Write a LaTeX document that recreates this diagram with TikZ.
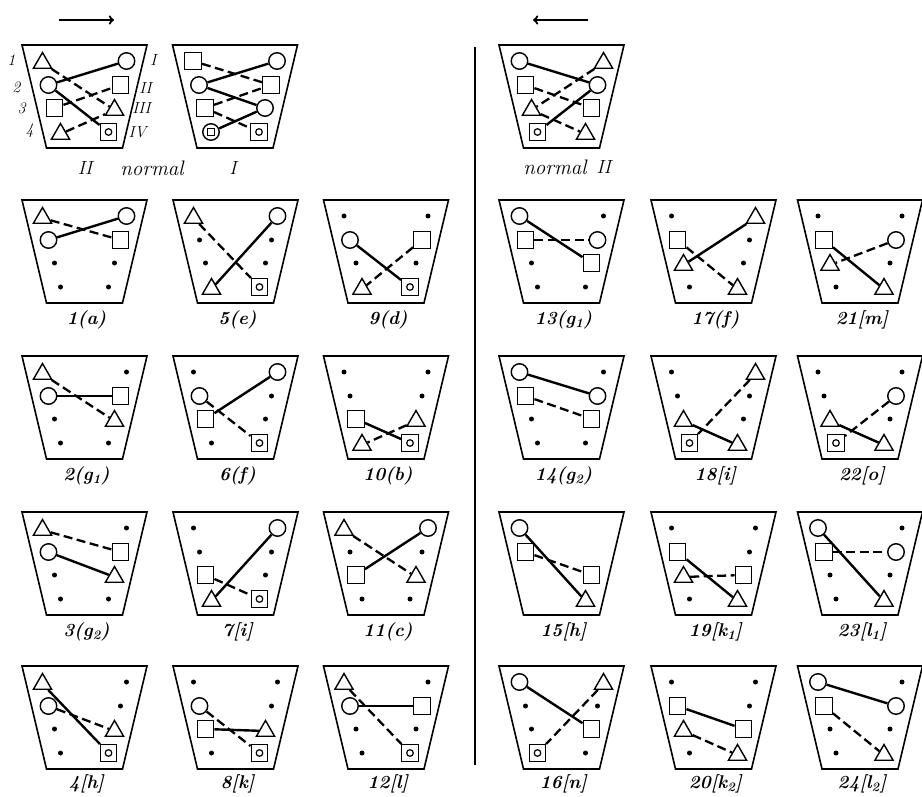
\documentclass[tikz,border=0pt]{standalone}
\usepackage{tikz}
\usetikzlibrary{shapes.geometric, arrows, positioning}

\newcommand{\pot}{\draw[rim] (-62.5,0) -- (62.5,0) -- (38,103) -- (-38,103) -- cycle;}

\begin{document}
\begin{tikzpicture}[x=1pt, y=-1pt,
    rim/.style={line width=1.6pt, line join=miter},
    tri/.style={regular polygon, regular polygon sides=3, draw, line width=1.4pt, minimum size=21pt, inner sep=0pt, yshift=-2pt},
    ring/.style={circle, draw, line width=1.4pt, minimum size=16.5pt, inner sep=0pt},
    box/.style={rectangle, draw, line width=1.4pt, minimum size=16.5pt, inner sep=0pt},
    dotbox/.style={box, path picture={\draw[line width=1.2pt] (path picture bounding box.center) circle (3.3pt);}},
    ringbox/.style={ring, path picture={\draw[line width=1.2pt] ([shift={(-3.2pt,-3.2pt)}]path picture bounding box.center) rectangle ++(6.4pt,6.4pt);}},
    spot/.style={circle, fill, minimum size=5pt, inner sep=0pt},
    link/.style={line width=2.4pt},
    dlink/.style={line width=2.3pt, dash pattern=on 9pt off 4.5pt},
    tag/.style={font=\fontsize{18.5}{22}\bfseries\itshape\selectfont},
    num/.style={font=\fontsize{16}{18}\itshape\selectfont},
    arrow/.style={->, line width=2.2pt, >=to},
    L1/.style={at={(-42,16)}}, L2/.style={at={(-36,40)}}, L3/.style={at={(-30,63)}}, L4/.style={at={(-24,87)}},
    R1/.style={at={(42,16)}}, R2/.style={at={(36,40)}}, R3/.style={at={(30,63)}}, R4/.style={at={(24,87)}}
]
\useasboundingbox (0,0) rectangle (922,797);

% direction arrows and divider
\coordinate (goA) at (59,20);
\coordinate (goB) at (114,20);
\coordinate (backA) at (588,20);
\coordinate (backB) at (533,20);
\draw[arrow] (goA) -- (goB);
\draw[arrow] (backA) -- (backB);
\draw[line width=1.4pt] (475,47) -- (475,765);

% normal cups
\begin{scope}[shift={(84.5,45)}, name prefix=n1-]
\pot
\node[tri,L1] (l1) {}; \node[ring,L2] (l2) {}; \node[box,L3] (l3) {}; \node[tri,L4] (l4) {};
\node[ring,R1] (r1) {}; \node[box,R2] (r2) {}; \node[tri,R3] (r3) {}; \node[dotbox,R4] (r4) {};
\draw[link] (l2) -- (r1); \draw[link] (l2) -- (r4);
\draw[dlink] (l1) -- (r3); \draw[dlink] (l3) -- (r2); \draw[dlink] (l4) -- (r3);
\node[num] (k1) at (-73,15) {1};
\node[num] (k2) at (-68,42) {2};
\node[num] (k3) at (-63,63) {3};
\node[num] (k4) at (-55,86) {4};
\node[num] (m1) at (69,15) {I};
\node[num] (m2) at (61,43) {II};
\node[num] (m3) at (57,63) {III};
\node[num] (m4) at (53,87) {IV};
\end{scope}
\begin{scope}[shift={(235,45)}, name prefix=n2-]
\pot
\node[box,L1] (l1) {}; \node[ring,L2] (l2) {}; \node[box,L3] (l3) {}; \node[ringbox,L4] (l4) {};
\node[ring,R1] (r1) {}; \node[box,R2] (r2) {}; \node[ring,R3] (r3) {}; \node[dotbox,R4] (r4) {};
\draw[link] (l2) -- (r1); \draw[link] (l2) -- (r3); \draw[link] (l4) -- (r3);
\draw[dlink] (l1) -- (r2); \draw[dlink] (l3) -- (r2); \draw[dlink] (l3) -- (r4);
\end{scope}
\begin{scope}[shift={(561.5,45)}, name prefix=n3-]
\pot
\node[ring,L1] (l1) {}; \node[box,L2] (l2) {}; \node[tri,L3] (l3) {}; \node[dotbox,L4] (l4) {};
\node[tri,R1] (r1) {}; \node[ring,R2] (r2) {}; \node[box,R3] (r3) {}; \node[tri,R4] (r4) {};
\draw[link] (l1) -- (r2); \draw[link] (l4) -- (r2);
\draw[dlink] (r1) -- (l3); \draw[dlink] (l2) -- (r3); \draw[dlink] (l3) -- (r4);
\end{scope}
\node[num] (t1) at (85,168) {\fontsize{19}{22}\selectfont II};
\node[num] (t2) at (152,168) {\fontsize{21}{24}\selectfont normal};
\node[num] (t3) at (233,168) {\fontsize{19}{22}\selectfont I};
\node[num] (t4) at (555,167) {\fontsize{21}{24}\selectfont normal};
\node[num, right=3pt of t4] (t5) {\fontsize{19}{22}\selectfont II};

% row 1
\begin{scope}[shift={(84.5,200)}, name prefix=p1-]
\pot
\node[tri,L1] (l1) {}; \node[ring,L2] (l2) {}; \node[spot,L3] (l3) {}; \node[spot,L4] (l4) {};
\node[ring,R1] (r1) {}; \node[box,R2] (r2) {}; \node[spot,R3] (r3) {}; \node[spot,R4] (r4) {};
\draw[link] (l2) -- (r1); \draw[dlink] (l1) -- (r2);
\node[tag] (tag) at (2,120) {1(a)};
\end{scope}
\begin{scope}[shift={(235.5,200)}, name prefix=p5-]
\pot
\node[tri,L1] (l1) {}; \node[spot,L2] (l2) {}; \node[spot,L3] (l3) {}; \node[tri,L4] (l4) {};
\node[ring,R1] (r1) {}; \node[spot,R2] (r2) {}; \node[spot,R3] (r3) {}; \node[dotbox,R4] (r4) {};
\draw[link] (r1) -- (l4); \draw[dlink] (l1) -- (r4);
\node[tag] (tag) at (2,120) {5(e)};
\end{scope}
\begin{scope}[shift={(386,200)}, name prefix=p9-]
\pot
\node[spot,L1] (l1) {}; \node[ring,L2] (l2) {}; \node[spot,L3] (l3) {}; \node[tri,L4] (l4) {};
\node[spot,R1] (r1) {}; \node[box,R2] (r2) {}; \node[spot,R3] (r3) {}; \node[dotbox,R4] (r4) {};
\draw[link] (l2) -- (r4); \draw[dlink] (r2) -- (l4);
\node[tag] (tag) at (2,120) {9(d)};
\end{scope}
\begin{scope}[shift={(561.5,200)}, name prefix=p13-]
\pot
\node[ring,L1] (l1) {}; \node[box,L2] (l2) {}; \node[spot,L3] (l3) {}; \node[spot,L4] (l4) {};
\node[spot,R1] (r1) {}; \node[ring,R2] (r2) {}; \node[box,R3] (r3) {}; \node[spot,R4] (r4) {};
\draw[link] (l1) -- (r3); \draw[dlink] (l2) -- (r2);
\node[tag] (tag) at (2,120) {13(g\textsubscript{1})};
\end{scope}
\begin{scope}[shift={(713.5,200)}, name prefix=p17-]
\pot
\node[spot,L1] (l1) {}; \node[box,L2] (l2) {}; \node[tri,L3] (l3) {}; \node[spot,L4] (l4) {};
\node[tri,R1] (r1) {}; \node[spot,R2] (r2) {}; \node[spot,R3] (r3) {}; \node[tri,R4] (r4) {};
\draw[link] (r1) -- (l3); \draw[dlink] (l2) -- (r4);
\node[tag] (tag) at (2,120) {17(f)};
\end{scope}
\begin{scope}[shift={(860,200)}, name prefix=p21-]
\pot
\node[spot,L1] (l1) {}; \node[box,L2] (l2) {}; \node[tri,L3] (l3) {}; \node[spot,L4] (l4) {};
\node[spot,R1] (r1) {}; \node[ring,R2] (r2) {}; \node[spot,R3] (r3) {}; \node[tri,R4] (r4) {};
\draw[link] (l2) -- (r4); \draw[dlink] (r2) -- (l3);
\node[tag] (tag) at (2,120) {21[m]};
\end{scope}

% row 2
\begin{scope}[shift={(84.5,356)}, name prefix=p2-]
\pot
\node[tri,L1] (l1) {}; \node[ring,L2] (l2) {}; \node[spot,L3] (l3) {}; \node[spot,L4] (l4) {};
\node[spot,R1] (r1) {}; \node[box,R2] (r2) {}; \node[tri,R3] (r3) {}; \node[spot,R4] (r4) {};
\draw[link] (l2) -- (r2); \draw[dlink] (l1) -- (r3);
\node[tag] (tag) at (2,120) {2(g\textsubscript{1})};
\end{scope}
\begin{scope}[shift={(235.5,356)}, name prefix=p6-]
\pot
\node[spot,L1] (l1) {}; \node[ring,L2] (l2) {}; \node[box,L3] (l3) {}; \node[spot,L4] (l4) {};
\node[ring,R1] (r1) {}; \node[spot,R2] (r2) {}; \node[spot,R3] (r3) {}; \node[dotbox,R4] (r4) {};
\draw[link] (l3) -- (r1); \draw[dlink] (l2) -- (r4);
\node[tag] (tag) at (2,120) {6(f)};
\end{scope}
\begin{scope}[shift={(386,356)}, name prefix=p10-]
\pot
\node[spot,L1] (l1) {}; \node[spot,L2] (l2) {}; \node[box,L3] (l3) {}; \node[tri,L4] (l4) {};
\node[spot,R1] (r1) {}; \node[spot,R2] (r2) {}; \node[tri,R3] (r3) {}; \node[dotbox,R4] (r4) {};
\draw[link] (l3) -- (r4); \draw[dlink] (r3) -- (l4);
\node[tag] (tag) at (2,120) {10(b)};
\end{scope}
\begin{scope}[shift={(561.5,356)}, name prefix=p14-]
\pot
\node[ring,L1] (l1) {}; \node[box,L2] (l2) {}; \node[spot,L3] (l3) {}; \node[spot,L4] (l4) {};
\node[spot,R1] (r1) {}; \node[ring,R2] (r2) {}; \node[box,R3] (r3) {}; \node[spot,R4] (r4) {};
\draw[link] (l1) -- (r2); \draw[dlink] (l2) -- (r3);
\node[tag] (tag) at (2,120) {14(g\textsubscript{2})};
\end{scope}
\begin{scope}[shift={(713.5,356)}, name prefix=p18-]
\pot
\node[spot,L1] (l1) {}; \node[spot,L2] (l2) {}; \node[tri,L3] (l3) {}; \node[dotbox,L4] (l4) {};
\node[tri,R1] (r1) {}; \node[spot,R2] (r2) {}; \node[spot,R3] (r3) {}; \node[tri,R4] (r4) {};
\draw[link] (l3) -- (r4); \draw[dlink] (r1) -- (l4);
\node[tag] (tag) at (2,120) {18[i]};
\end{scope}
\begin{scope}[shift={(860,356)}, name prefix=p22-]
\pot
\node[spot,L1] (l1) {}; \node[spot,L2] (l2) {}; \node[tri,L3] (l3) {}; \node[dotbox,L4] (l4) {};
\node[spot,R1] (r1) {}; \node[ring,R2] (r2) {}; \node[spot,R3] (r3) {}; \node[tri,R4] (r4) {};
\draw[link] (l3) -- (r4); \draw[dlink] (r2) -- (l4);
\node[tag] (tag) at (2,120) {22[o]};
\end{scope}

% row 3
\begin{scope}[shift={(84.5,512)}, name prefix=p3-]
\pot
\node[tri,L1] (l1) {}; \node[ring,L2] (l2) {}; \node[spot,L3] (l3) {}; \node[spot,L4] (l4) {};
\node[spot,R1] (r1) {}; \node[box,R2] (r2) {}; \node[tri,R3] (r3) {}; \node[spot,R4] (r4) {};
\draw[link] (l2) -- (r3); \draw[dlink] (l1) -- (r2);
\node[tag] (tag) at (2,120) {3(g\textsubscript{2})};
\end{scope}
\begin{scope}[shift={(235.5,512)}, name prefix=p7-]
\pot
\node[spot,L1] (l1) {}; \node[spot,L2] (l2) {}; \node[box,L3] (l3) {}; \node[tri,L4] (l4) {};
\node[ring,R1] (r1) {}; \node[spot,R2] (r2) {}; \node[spot,R3] (r3) {}; \node[dotbox,R4] (r4) {};
\draw[link] (r1) -- (l4); \draw[dlink] (l3) -- (r4);
\node[tag] (tag) at (2,120) {7[i]};
\end{scope}
\begin{scope}[shift={(386,512)}, name prefix=p11-]
\pot
\node[tri,L1] (l1) {}; \node[spot,L2] (l2) {}; \node[box,L3] (l3) {}; \node[spot,L4] (l4) {};
\node[ring,R1] (r1) {}; \node[spot,R2] (r2) {}; \node[tri,R3] (r3) {}; \node[spot,R4] (r4) {};
\draw[link] (l3) -- (r1); \draw[dlink] (l1) -- (r3);
\node[tag] (tag) at (2,120) {11(c)};
\end{scope}
\begin{scope}[shift={(561.5,512)}, name prefix=p15-]
\pot
\node[ring,L1] (l1) {}; \node[box,L2] (l2) {};
\node[box,R3] (r3) {}; \node[tri,R4] (r4) {};
\draw[link] (l1) -- (r4); \draw[dlink] (l2) -- (r3);
\node[tag] (tag) at (2,120) {15[h]};
\end{scope}
\begin{scope}[shift={(713.5,512)}, name prefix=p19-]
\pot
\node[spot,L1] (l1) {}; \node[box,L2] (l2) {}; \node[tri,L3] (l3) {}; \node[spot,L4] (l4) {};
\node[spot,R1] (r1) {}; \node[spot,R2] (r2) {}; \node[box,R3] (r3) {}; \node[tri,R4] (r4) {};
\draw[link] (l2) -- (r4); \draw[dlink] (l3) -- (r3);
\node[tag] (tag) at (2,120) {19[k\textsubscript{1}]};
\end{scope}
\begin{scope}[shift={(860,512)}, name prefix=p23-]
\pot
\node[ring,L1] (l1) {}; \node[box,L2] (l2) {}; \node[spot,L3] (l3) {}; \node[spot,L4] (l4) {};
\node[spot,R1] (r1) {}; \node[ring,R2] (r2) {}; \node[spot,R3] (r3) {}; \node[tri,R4] (r4) {};
\draw[link] (l1) -- (r4); \draw[dlink] (l2) -- (r2);
\node[tag] (tag) at (2,120) {23[l\textsubscript{1}]};
\end{scope}

% row 4
\begin{scope}[shift={(84.5,666)}, name prefix=p4-]
\pot
\node[tri,L1] (l1) {}; \node[ring,L2] (l2) {}; \node[spot,L3] (l3) {}; \node[spot,L4] (l4) {};
\node[spot,R1] (r1) {}; \node[spot,R2] (r2) {}; \node[tri,R3] (r3) {}; \node[dotbox,R4] (r4) {};
\draw[link] (l1) -- (r4); \draw[dlink] (l2) -- (r3);
\node[tag] (tag) at (2,118) {4[h]};
\end{scope}
\begin{scope}[shift={(235.5,666)}, name prefix=p8-]
\pot
\node[spot,L1] (l1) {}; \node[ring,L2] (l2) {}; \node[box,L3] (l3) {}; \node[spot,L4] (l4) {};
\node[spot,R1] (r1) {}; \node[spot,R2] (r2) {}; \node[tri,R3] (r3) {}; \node[dotbox,R4] (r4) {};
\draw[link] (l3) -- (r3); \draw[dlink] (l2) -- (r4);
\node[tag] (tag) at (2,118) {8[k]};
\end{scope}
\begin{scope}[shift={(386,666)}, name prefix=p12-]
\pot
\node[tri,L1] (l1) {}; \node[ring,L2] (l2) {}; \node[spot,L3] (l3) {}; \node[spot,L4] (l4) {};
\node[spot,R1] (r1) {}; \node[box,R2] (r2) {}; \node[spot,R3] (r3) {}; \node[dotbox,R4] (r4) {};
\draw[link] (l2) -- (r2); \draw[dlink] (l1) -- (r4);
\node[tag] (tag) at (2,118) {12[l]};
\end{scope}
\begin{scope}[shift={(561.5,666)}, name prefix=p16-]
\pot
\node[ring,L1] (l1) {}; \node[spot,L2] (l2) {}; \node[spot,L3] (l3) {}; \node[dotbox,L4] (l4) {};
\node[tri,R1] (r1) {}; \node[spot,R2] (r2) {}; \node[box,R3] (r3) {}; \node[spot,R4] (r4) {};
\draw[link] (l1) -- (r3); \draw[dlink] (r1) -- (l4);
\node[tag] (tag) at (2,118) {16[n]};
\end{scope}
\begin{scope}[shift={(713.5,666)}, name prefix=p20-]
\pot
\node[spot,L1] (l1) {}; \node[box,L2] (l2) {}; \node[tri,L3] (l3) {}; \node[spot,L4] (l4) {};
\node[spot,R1] (r1) {}; \node[spot,R2] (r2) {}; \node[box,R3] (r3) {}; \node[tri,R4] (r4) {};
\draw[link] (l2) -- (r3); \draw[dlink] (l3) -- (r4);
\node[tag] (tag) at (2,118) {20[k\textsubscript{2}]};
\end{scope}
\begin{scope}[shift={(860,666)}, name prefix=p24-]
\pot
\node[ring,L1] (l1) {}; \node[box,L2] (l2) {}; \node[spot,L3] (l3) {}; \node[spot,L4] (l4) {};
\node[spot,R1] (r1) {}; \node[ring,R2] (r2) {}; \node[spot,R3] (r3) {}; \node[tri,R4] (r4) {};
\draw[link] (l1) -- (r2); \draw[dlink] (l2) -- (r4);
\node[tag] (tag) at (2,118) {24[l\textsubscript{2}]};
\end{scope}
\end{tikzpicture}
\end{document}
